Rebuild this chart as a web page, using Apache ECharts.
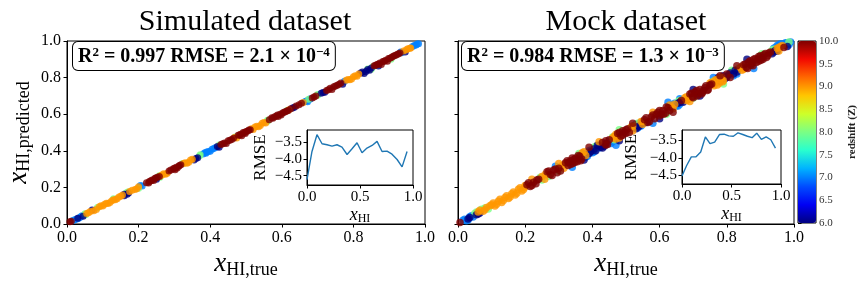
<!DOCTYPE html>
<html><head><meta charset="utf-8">
<script src="https://cdn.jsdelivr.net/npm/echarts@6/dist/echarts.min.js"></script>
<style>html,body{margin:0;padding:0;background:#fff}#c{width:864px;height:288px}</style>
</head><body><div id="c"></div>
<script>
// ---------------- data ----------------
const mainTicks = [0, 0.2, 0.4, 0.6, 0.8, 1.0];
const insetYTicks = [-4.5, -4.0, -3.5];
const cbarTicks = [6.0, 6.5, 7.0, 7.5, 8.0, 8.5, 9.0, 9.5, 10.0];
const jetColors = ['#000080','#0000f3','#004cff','#00b3ff','#29ffce','#7bff84','#ceff29','#ffc600','#ff6800','#f30900','#800000'];

// Simulated dataset: [x_true, x_predicted] grouped by redshift
const sim8 = [[0.05,0.056],[0.085,0.09],[0.165,0.17],[0.258,0.264],[0.323,0.33],[0.372,0.378],[0.425,0.432],[0.56,0.567],[0.615,0.62],[0.675,0.682],[0.7,0.708],[0.84,0.847],[0.85,0.846],[0.905,0.9],[0.13,0.138],[0.2,0.196],
  [0.052,0.05],[0.17,0.175],[0.26,0.256],[0.37,0.372],[0.47,0.476],[0.56,0.562],[0.7,0.703],[0.855,0.86]];
const sim6 = [[0.03,0.032],[0.045,0.042],[0.07,0.076],[0.16,0.155],[0.168,0.162],[0.25,0.244],[0.355,0.35],[0.365,0.362],[0.425,0.42],[0.63,0.634],[0.72,0.72],[0.77,0.764],[0.82,0.825],[0.83,0.822],[0.845,0.84],[0.87,0.864],[0.945,0.94],
  [0.16,0.163],[0.172,0.17],[0.36,0.358],[0.42,0.424],[0.635,0.638],[0.71,0.714],[0.715,0.718],[0.825,0.83],[0.835,0.834],[0.84,0.844],[0.85,0.852]];
const sim7 = [[0.015,0.018],[0.025,0.026],[0.035,0.034],[0.042,0.045],[0.205,0.21],[0.21,0.207],[0.38,0.382],[0.388,0.386],[0.39,0.393],[0.4,0.398],[0.405,0.408],[0.41,0.413],[0.665,0.67],[0.672,0.668],[0.678,0.682],[0.775,0.78],[0.932,0.94],[0.965,0.97],[0.97,0.975],[0.978,0.984],
  [0.02,0.022],[0.03,0.029],[0.038,0.04],[0.385,0.39],[0.395,0.396],[0.415,0.418],[0.67,0.674],[0.68,0.685],[0.935,0.936],[0.975,0.978],[0.982,0.985]];
const sim9 = [[0.06,0.062],[0.075,0.072],[0.09,0.094],[0.1,0.098],[0.11,0.113],[0.12,0.118],[0.13,0.133],[0.14,0.138],[0.15,0.152],[0.175,0.178],[0.19,0.188],[0.2,0.203],[0.265,0.268],[0.275,0.272],[0.325,0.33],[0.335,0.332],[0.345,0.35],[0.468,0.472],[0.474,0.47],[0.515,0.52],[0.525,0.53],[0.535,0.532],[0.545,0.55],[0.555,0.552],[0.62,0.625],[0.66,0.664],[0.78,0.785],[0.79,0.788],[0.8,0.805],[0.81,0.808],[0.94,0.945],[0.952,0.958],[0.96,0.962],
  [0.055,0.058],[0.065,0.068],[0.082,0.079],[0.095,0.1],[0.105,0.108],[0.115,0.112],[0.125,0.127],[0.135,0.132],[0.145,0.148],[0.155,0.158],[0.182,0.185],[0.195,0.192],[0.26,0.262],[0.27,0.275],[0.28,0.278],[0.33,0.335],[0.34,0.338],[0.35,0.354],[0.52,0.517],[0.53,0.534],[0.54,0.538],[0.55,0.555],[0.785,0.79],[0.795,0.793],[0.805,0.81],[0.815,0.82],[0.948,0.952],[0.958,0.96]];
const sim10 = [[0.008,0.012],[0.222,0.226],[0.228,0.224],[0.23,0.232],[0.238,0.24],[0.242,0.238],[0.245,0.249],[0.252,0.255],[0.29,0.295],[0.297,0.302],[0.302,0.297],[0.305,0.31],[0.312,0.315],[0.314,0.32],[0.318,0.324],[0.43,0.435],[0.44,0.442],[0.445,0.44],[0.45,0.455],[0.46,0.462],[0.478,0.485],[0.485,0.49],[0.488,0.482],[0.492,0.5],[0.498,0.494],[0.5,0.505],[0.508,0.513],[0.572,0.58],[0.58,0.586],[0.588,0.595],[0.59,0.588],[0.595,0.6],[0.602,0.607],[0.61,0.614],[0.618,0.62],[0.64,0.645],[0.648,0.652],[0.655,0.66],[0.685,0.688],[0.695,0.7],[0.725,0.73],[0.735,0.742],[0.74,0.735],[0.745,0.75],[0.755,0.758],[0.765,0.77],[0.858,0.865],[0.866,0.872],[0.874,0.88],[0.878,0.872],[0.882,0.888],[0.89,0.895],[0.895,0.89],[0.898,0.905],[0.906,0.91],[0.91,0.915],[0.914,0.92],[0.922,0.926],[0.93,0.935],
  [0.012,0.015],[0.234,0.236],[0.248,0.252],[0.258,0.26],[0.285,0.29],[0.3,0.304],[0.308,0.306],[0.435,0.438],[0.455,0.458],[0.465,0.468],[0.482,0.486],[0.495,0.498],[0.505,0.508],[0.512,0.515],[0.565,0.57],[0.575,0.578],[0.585,0.59],[0.598,0.596],[0.606,0.61],[0.614,0.618],[0.625,0.63],[0.69,0.694],[0.73,0.734],[0.75,0.754],[0.76,0.763],[0.862,0.868],[0.87,0.875],[0.886,0.89],[0.902,0.906],[0.918,0.922],[0.926,0.93]];

// Mock dataset
const mock8 = [[0.05,0.058],[0.07,0.08],[0.09,0.082],[0.245,0.255],[0.27,0.26],[0.3,0.29],[0.405,0.42],[0.46,0.475],[0.535,0.55],[0.655,0.67],[0.7,0.688],[0.76,0.78],[0.82,0.835],[0.835,0.85],[0.9,0.92],[0.935,0.95],[0.985,0.995],
  [0.055,0.065],[0.08,0.088],[0.25,0.24],[0.3,0.31],[0.41,0.425],[0.465,0.46],[0.53,0.54],[0.66,0.675],[0.705,0.7],[0.815,0.84],[0.905,0.93],[0.94,0.955],
  [0.48,0.515],[0.62,0.6],[0.79,0.765],[0.36,0.385]];
const mock6 = [[0.03,0.028],[0.055,0.05],[0.065,0.06],[0.39,0.385],[0.41,0.4],[0.415,0.43],[0.425,0.42],[0.435,0.425],[0.53,0.52],[0.54,0.535],[0.56,0.555],[0.655,0.66],[0.67,0.665],[0.775,0.8],[0.78,0.78],[0.79,0.81],[0.795,0.795],[0.805,0.815],[0.825,0.84],[0.83,0.83],[0.935,0.93],[0.945,0.95],[0.98,0.97],
  [0.035,0.035],[0.06,0.055],[0.395,0.395],[0.405,0.41],[0.42,0.43],[0.43,0.415],[0.44,0.44],[0.535,0.53],[0.55,0.55],[0.66,0.665],[0.785,0.795],[0.8,0.8],[0.81,0.825],[0.82,0.82],[0.94,0.94],[0.95,0.945],
  [0.6,0.575],[0.48,0.455],[0.7,0.735],[0.86,0.9],[0.375,0.35],[0.72,0.7]];
const mock7 = [[0.015,0.02],[0.025,0.018],[0.035,0.04],[0.045,0.038],[0.36,0.355],[0.375,0.38],[0.385,0.37],[0.395,0.405],[0.4,0.39],[0.42,0.415],[0.455,0.44],[0.525,0.54],[0.535,0.525],[0.54,0.55],[0.645,0.66],[0.65,0.645],[0.66,0.655],[0.66,0.685],[0.8,0.805],[0.815,0.83],[0.83,0.82],[0.94,0.96],[0.95,0.975],[0.96,0.985],[0.975,0.99],[0.985,0.98],[0.99,0.995],
  [0.02,0.026],[0.03,0.022],[0.04,0.045],[0.365,0.365],[0.37,0.385],[0.38,0.365],[0.39,0.4],[0.405,0.395],[0.45,0.455],[0.46,0.45],[0.53,0.545],[0.545,0.535],[0.64,0.65],[0.655,0.645],[0.665,0.67],[0.81,0.82],[0.82,0.81],[0.945,0.965],[0.955,0.98],[0.97,0.985],[0.98,0.99],
  [0.625,0.665],[0.58,0.55],[0.47,0.43],[0.76,0.8],[0.88,0.85],[0.34,0.31],[0.29,0.315]];
const mock9 = [[0.06,0.065],[0.075,0.07],[0.085,0.09],[0.1,0.105],[0.11,0.098],[0.12,0.125],[0.13,0.118],[0.14,0.145],[0.15,0.14],[0.16,0.165],[0.17,0.158],[0.18,0.19],[0.19,0.18],[0.198,0.2],[0.25,0.26],[0.258,0.245],[0.31,0.32],[0.315,0.305],[0.37,0.39],[0.38,0.375],[0.465,0.48],[0.47,0.465],[0.48,0.47],[0.515,0.53],[0.52,0.51],[0.545,0.56],[0.55,0.545],[0.63,0.65],[0.64,0.63],[0.68,0.695],[0.685,0.68],[0.755,0.775],[0.762,0.755],[0.77,0.79],[0.778,0.77],[0.785,0.8],[0.79,0.785],[0.76,0.765],[0.84,0.855],[0.845,0.84],[0.95,0.96],[0.96,0.97],[0.955,0.945],
  [0.065,0.075],[0.08,0.078],[0.095,0.1],[0.105,0.115],[0.115,0.108],[0.125,0.135],[0.135,0.128],[0.145,0.155],[0.155,0.148],[0.165,0.175],[0.175,0.168],[0.185,0.198],[0.195,0.188],[0.2,0.21],[0.26,0.272],[0.32,0.33],[0.375,0.395],[0.46,0.47],[0.47,0.49],[0.52,0.535],[0.55,0.56],[0.635,0.64],[0.645,0.655],[0.675,0.69],[0.68,0.675],[0.75,0.77],[0.765,0.785],[0.772,0.76],[0.78,0.8],[0.788,0.778],[0.845,0.86],[0.85,0.845],[0.955,0.965],[0.965,0.975],
  [0.42,0.45],[0.58,0.61],[0.69,0.67],[0.3,0.33],[0.22,0.245]];
const mock10 = [[0.006,0.008],[0.205,0.215],[0.215,0.205],[0.225,0.228],[0.232,0.22],[0.24,0.245],[0.265,0.285],[0.275,0.27],[0.285,0.295],[0.295,0.28],[0.3,0.305],[0.32,0.335],[0.328,0.32],[0.33,0.338],[0.335,0.345],[0.342,0.33],[0.345,0.352],[0.35,0.36],[0.355,0.34],[0.362,0.37],[0.368,0.355],[0.43,0.445],[0.44,0.432],[0.45,0.46],[0.475,0.495],[0.485,0.48],[0.49,0.51],[0.495,0.502],[0.5,0.495],[0.505,0.52],[0.555,0.57],[0.565,0.555],[0.575,0.585],[0.585,0.575],[0.59,0.6],[0.595,0.61],[0.6,0.59],[0.605,0.6],[0.61,0.62],[0.618,0.605],[0.625,0.635],[0.665,0.675],[0.69,0.71],[0.698,0.695],[0.705,0.72],[0.712,0.7],[0.715,0.712],[0.72,0.735],[0.728,0.718],[0.73,0.73],[0.735,0.745],[0.742,0.73],[0.75,0.76],[0.8,0.82],[0.81,0.8],[0.85,0.87],[0.858,0.855],[0.865,0.885],[0.872,0.868],[0.875,0.878],[0.88,0.9],[0.888,0.882],[0.892,0.9],[0.895,0.915],[0.902,0.895],[0.905,0.908],[0.91,0.925],[0.918,0.91],[0.925,0.935],[0.97,0.965],
  [0.21,0.225],[0.22,0.21],[0.235,0.24],[0.27,0.29],[0.28,0.265],[0.29,0.3],[0.305,0.29],[0.325,0.345],[0.335,0.325],[0.34,0.36],[0.348,0.338],[0.358,0.375],[0.365,0.345],[0.44,0.455],[0.445,0.435],[0.48,0.5],[0.49,0.485],[0.5,0.515],[0.51,0.5],[0.56,0.58],[0.57,0.56],[0.58,0.595],[0.6,0.62],[0.612,0.6],[0.62,0.64],[0.63,0.62],[0.695,0.715],[0.7,0.69],[0.71,0.73],[0.725,0.71],[0.738,0.755],[0.745,0.735],[0.755,0.765],[0.855,0.875],[0.862,0.85],[0.87,0.892],[0.878,0.865],[0.885,0.905],[0.895,0.89],[0.9,0.92],[0.908,0.9],[0.915,0.932],[0.922,0.92],[0.93,0.94],
  [0.39,0.42],[0.52,0.55],[0.64,0.61],[0.78,0.81],[0.83,0.865]];

// Insets: RMSE (log10) vs x_HI
const insetX = [0,0.047,0.094,0.142,0.189,0.236,0.283,0.330,0.378,0.425,0.472,0.519,0.566,0.614,0.661,0.708,0.755,0.802,0.850,0.897,0.944];
const simRmse = [-4.62,-3.78,-3.28,-3.55,-3.58,-3.62,-3.58,-3.65,-3.87,-3.70,-3.52,-3.82,-3.68,-3.60,-3.48,-3.78,-3.77,-3.86,-4.02,-4.24,-3.78];
const mockRmse = [-4.52,-4.22,-3.97,-3.97,-3.83,-3.40,-3.59,-3.55,-3.33,-3.32,-3.37,-3.38,-3.28,-3.33,-3.38,-3.42,-3.29,-3.47,-3.40,-3.48,-3.72];

const annSim = ['0.997', '2.1', '−4'];
const annMock = ['0.984', '1.3', '−3'];

// ---------------- chart ----------------
const SERIF = '"Liberation Serif", "DejaVu Serif", serif';
const chart = echarts.init(document.getElementById('c'), null, {renderer: 'canvas'});
const fmt1 = v => (v < 0 ? '−' : '') + Math.abs(v).toFixed(1);

const subRich = (big, small) => ({
  i: {fontFamily: SERIF, fontStyle: 'italic', fontSize: big, lineHeight: big + 2, color: '#000'},
  s: {fontFamily: SERIF, fontSize: small, lineHeight: small, verticalAlign: 'bottom', color: '#000'}
});

function mainX(gi) {
  return {
    gridIndex: gi, type: 'value', min: 0, max: 1, interval: 0.2,
    axisLine: {show: true, onZero: false, lineStyle: {color: '#000', width: 1}},
    axisTick: {show: true, inside: false, length: 3.5, lineStyle: {color: '#000'}},
    axisLabel: {formatter: v => v.toFixed(1), fontFamily: SERIF, fontSize: 16, color: '#000', margin: 6},
    splitLine: {show: false},
    name: '{i|x}{s|HI,true}', nameLocation: 'middle', nameGap: 23,
    nameTextStyle: {rich: subRich(27, 18)}
  };
}
function mainY(gi, labels) {
  const o = {
    gridIndex: gi, type: 'value', min: 0, max: 1, interval: 0.2,
    axisLine: {show: true, onZero: false, lineStyle: {color: '#000', width: 1}},
    axisTick: {show: true, inside: false, length: 3.5, lineStyle: {color: '#000'}},
    axisLabel: {show: labels, formatter: v => v.toFixed(1), fontFamily: SERIF, fontSize: 16, color: '#000', margin: 6},
    splitLine: {show: false}
  };
  if (labels) {
    o.name = '{i|x}{s|HI,predicted}';
    o.nameLocation = 'middle'; o.nameRotate = 90; o.nameGap = 34;
    o.nameTextStyle = {rich: subRich(27, 18)};
  }
  return o;
}
function insetXAxis(gi) {
  return {
    gridIndex: gi, type: 'value', min: 0, max: 1, interval: 0.5,
    axisLine: {show: true, onZero: false, lineStyle: {color: '#000'}},
    axisTick: {show: true, inside: false, length: 3.5, lineStyle: {color: '#000'}},
    axisLabel: {formatter: fmt1, fontFamily: SERIF, fontSize: 15, color: '#000', margin: 5},
    splitLine: {show: false},
    name: '{i|x}{s|HI}', nameLocation: 'middle', nameGap: 19,
    nameTextStyle: {rich: subRich(18, 12)}
  };
}
function insetYAxis(gi, mn, mx, gap) {
  return {
    gridIndex: gi, type: 'value', min: mn, max: mx,
    axisLine: {show: true, onZero: false, lineStyle: {color: '#000'}},
    axisTick: {show: true, inside: false, length: 3.5, lineStyle: {color: '#000'}, customValues: insetYTicks},
    axisLabel: {formatter: fmt1, fontFamily: SERIF, fontSize: 15, color: '#000', margin: 5, customValues: insetYTicks},
    splitLine: {show: false},
    name: 'RMSE', nameLocation: 'middle', nameRotate: 90, nameGap: gap,
    nameTextStyle: {fontFamily: SERIF, fontSize: 17, color: '#000'}
  };
}

const scatterGroups = [
  [sim7, 7, 0], [sim8, 8, 0], [sim6, 6, 0], [sim9, 9, 0], [sim10, 10, 0],
  [mock7, 7, 1], [mock8, 8, 1], [mock6, 6, 1], [mock9, 9, 1], [mock10, 10, 1]
];
const series = scatterGroups.map(([pts, z, g]) => ({
  type: 'scatter', xAxisIndex: g, yAxisIndex: g, symbolSize: g === 0 ? 7 : 7.5,
  data: pts.map(p => [p[0], p[1], z]), silent: true, animation: false, z: 2
}));
series.push({
  type: 'line', xAxisIndex: 2, yAxisIndex: 2, data: insetX.map((x, i) => [x, simRmse[i]]),
  showSymbol: false, lineStyle: {color: '#1f77b4', width: 1.4}, animation: false, silent: true
});
series.push({
  type: 'line', xAxisIndex: 3, yAxisIndex: 3, data: insetX.map((x, i) => [x, mockRmse[i]]),
  showSymbol: false, lineStyle: {color: '#1f77b4', width: 1.4}, animation: false, silent: true
});

const annRich = {
  b: {fontFamily: SERIF, fontWeight: 'bold', fontSize: 20, lineHeight: 22, color: '#000'},
  sp: {fontFamily: SERIF, fontWeight: 'bold', fontSize: 13, lineHeight: 13, verticalAlign: 'top', color: '#000'}
};
const annText = a => '{b|R}{sp|2}{b| = ' + a[0] + ' RMSE = ' + a[1] + ' × 10}{sp|' + a[2] + '}';

const option = {
  backgroundColor: '#fff',
  animation: false,
  grid: [
    {left: 67, top: 41, width: 358, height: 183, show: true, borderColor: '#000', borderWidth: 1, backgroundColor: 'transparent'},
    {left: 458, top: 41, width: 336, height: 183, show: true, borderColor: '#000', borderWidth: 1, backgroundColor: 'transparent'},
    {left: 307, top: 130, width: 106, height: 55, show: true, borderColor: '#000', borderWidth: 1, backgroundColor: '#fff'},
    {left: 682, top: 130, width: 99, height: 54, show: true, borderColor: '#000', borderWidth: 1, backgroundColor: '#fff'},
    {left: 798, top: 41, width: 18, height: 182, show: true, borderColor: '#000', borderWidth: 1, backgroundColor: 'transparent'}
  ],
  xAxis: [mainX(0), mainX(1), insetXAxis(2), insetXAxis(3),
    {gridIndex: 4, type: 'value', min: 0, max: 1, show: false}],
  yAxis: [mainY(0, true), mainY(1, false), insetYAxis(2, -4.78, -3.14, 38), insetYAxis(3, -4.75, -3.20, 42),
    {gridIndex: 4, type: 'value', min: 6, max: 10, interval: 0.5, position: 'right',
     axisLine: {show: false}, axisTick: {show: true, inside: false, length: 3.5, lineStyle: {color: '#000'}},
     axisLabel: {formatter: v => v.toFixed(1), fontFamily: SERIF, fontSize: 11, color: '#333', margin: 3},
     splitLine: {show: false},
     name: 'redshift (Z)', nameLocation: 'middle', nameRotate: 90, nameGap: 31,
     nameTextStyle: {fontFamily: SERIF, fontSize: 11, fontWeight: 'bold', color: '#222'}}],
  visualMap: {
    type: 'continuous', min: 6, max: 10, dimension: 2, seriesIndex: [0,1,2,3,4,5,6,7,8,9],
    inRange: {color: jetColors}, calculable: false, show: true, orient: 'vertical',
    left: 798, top: 41, itemWidth: 18, itemHeight: 182, padding: 0, text: null,
    textStyle: {color: 'transparent'}, hoverLink: false
  },
  graphic: [
    {type: 'text', x: 245, y: 22, z: 100, style: {text: 'Simulated dataset', font: '30px ' + SERIF, fill: '#000', align: 'center', verticalAlign: 'middle'}},
    {type: 'text', x: 626, y: 22, z: 100, style: {text: 'Mock dataset', font: '30px ' + SERIF, fill: '#000', align: 'center', verticalAlign: 'middle'}},
    {type: 'text', x: 73, y: 42, z: 100, style: {text: annText(annSim), rich: annRich, backgroundColor: '#fff', borderColor: '#000', borderWidth: 1, borderRadius: 5, padding: [4, 5, 2, 5]}},
    {type: 'text', x: 462, y: 42, z: 100, style: {text: annText(annMock), rich: annRich, backgroundColor: '#fff', borderColor: '#000', borderWidth: 1, borderRadius: 5, padding: [4, 5, 2, 5]}}
  ],
  series: series
};
chart.setOption(option);
</script></body></html>
